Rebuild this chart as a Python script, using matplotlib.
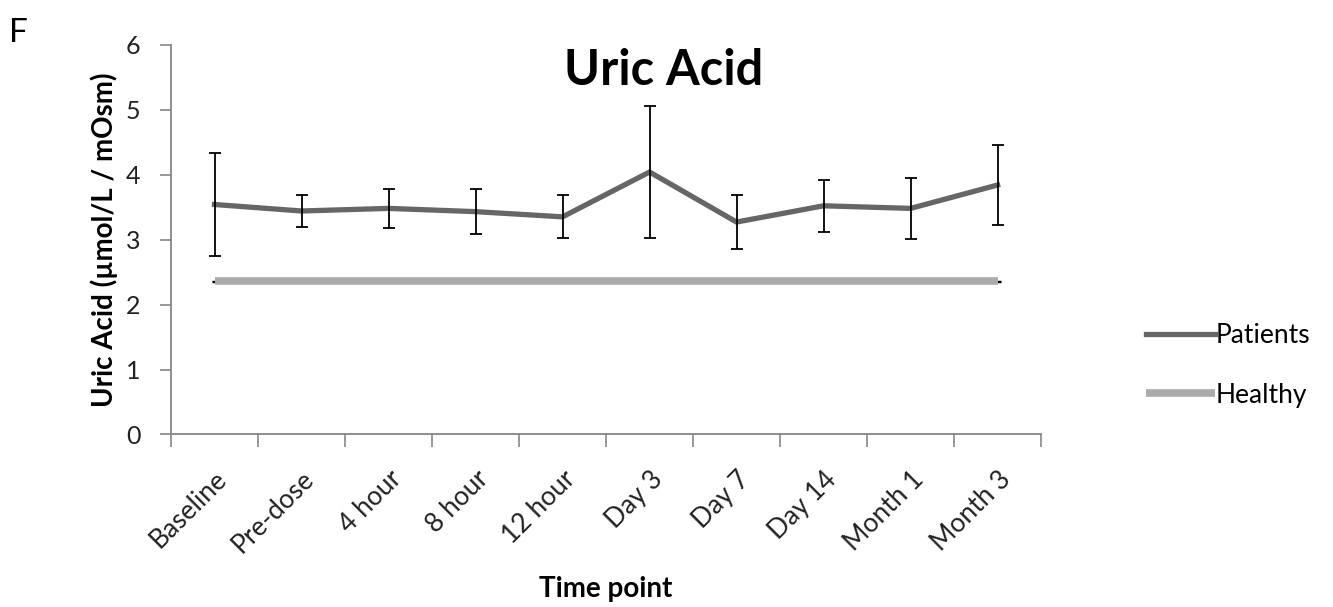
import matplotlib
matplotlib.use("Agg")
import matplotlib.pyplot as plt
import numpy as np

categories = ["Baseline", "Pre-dose", "4 hour", "8 hour", "12 hour",
              "Day 3", "Day 7", "Day 14", "Month 1", "Month 3"]
patients = [3.54, 3.44, 3.48, 3.43, 3.35, 4.04, 3.27, 3.52, 3.48, 3.84]
patients_err = [0.80, 0.24, 0.30, 0.35, 0.33, 1.02, 0.42, 0.40, 0.47, 0.62]
healthy = [2.36] * 10
yticks = [0, 1, 2, 3, 4, 5, 6]

plt.rcParams['font.family'] = ['Lato', 'DejaVu Sans']

fig = plt.figure(figsize=(13.33, 6.07), dpi=100)
ax = fig.add_axes([0.1283, 0.2842, 0.781 - 0.1283, 0.9264 - 0.2842])

x = np.arange(len(categories))
ax.plot(x, healthy, color="#ababab", lw=5.5, solid_capstyle="butt", label="Healthy", zorder=2)
ax.errorbar(x[[0, -1]], [healthy[0], healthy[-1]], yerr=[0.01, 0.01], fmt="none",
            ecolor="black", elinewidth=1, capsize=2, zorder=1)
ax.plot(x, patients, color="#666666", lw=3.8, label="Patients", zorder=3)
ax.errorbar(x, patients, yerr=patients_err, fmt="none", ecolor="black",
            elinewidth=1.3, capsize=4.5, capthick=1.3, zorder=4)

ax.set_xlim(-0.5, len(categories) - 0.5)
ax.set_ylim(0, 6)
ax.set_yticks(yticks)
ax.set_yticklabels([str(v) for v in yticks], fontsize=18, color="#222222")
ax.set_xticks(x)
ax.set_xticklabels(categories, rotation=45, ha="right", rotation_mode="anchor",
                   fontsize=19, color="#222222")
ax.set_xticks(np.arange(-0.5, len(categories)), minor=True)
ax.tick_params(axis="x", which="major", length=0, pad=23)
ax.tick_params(axis="x", which="minor", length=9, width=1.2, color="#868686", direction="out")
ax.tick_params(axis="y", length=8, width=1.2, color="#868686", direction="out", pad=14)

for s in ["top", "right"]:
    ax.spines[s].set_visible(False)
for s in ["left", "bottom"]:
    ax.spines[s].set_color("#868686")
    ax.spines[s].set_linewidth(1.3)

ax.set_xlabel("Time point", fontsize=20, fontweight="bold", labelpad=13)
ax.set_ylabel("Uric Acid (µmol/L / mOsm)", fontsize=20, fontweight="bold", labelpad=6)

fig.text(0.4975, 0.884, "Uric Acid", fontsize=35, fontweight="bold", ha="center", va="center")
fig.text(0.007, 0.945, "F", fontsize=24, ha="left", va="center")

handles, labels = ax.get_legend_handles_labels()
order = [labels.index("Patients"), labels.index("Healthy")]
leg = fig.legend([handles[i] for i in order], [labels[i] for i in order],
                 loc="center left", bbox_to_anchor=(0.842, 0.398), frameon=False,
                 fontsize=19, handlelength=2.6, handletextpad=0.05, labelspacing=1.3)

fig.savefig("out.png", dpi=100)
